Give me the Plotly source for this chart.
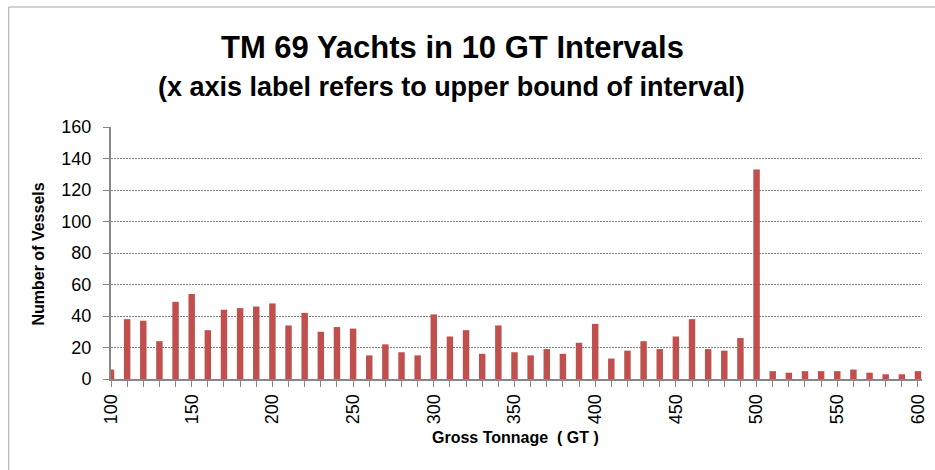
import plotly.graph_objects as go

# Gross tonnage interval upper bounds (10 GT bins) and vessel counts per bin
gt_upper = list(range(100, 601, 10))
vessels = [6, 38, 37, 24, 49, 54, 31, 44, 45, 46,
           48, 34, 42, 30, 33, 32, 15, 22, 17, 15,
           41, 27, 31, 16, 34, 17, 15, 19, 16, 23,
           35, 13, 18, 24, 19, 27, 38, 19, 18, 26,
           133, 5, 4, 5, 5, 5, 6, 4, 3, 3, 5]
x_tick_vals = list(range(100, 601, 50))
y_tick_vals = list(range(0, 161, 20))

W, H = 935, 470
ML, MR, MT, MB = 111, 7, 127, 91
PW, PH = W - ML - MR, H - MT - MB


def px_x(p):
    return (p - ML) / PW


def px_y(p):
    return (H - MB - p) / PH


FONT = "Liberation Sans, Arial, sans-serif"
AXIS_COL = "#878787"


def label(text, cx, cy, size, angle=0):
    return dict(text=text, textangle=angle,
                xref="paper", yref="paper", x=px_x(cx), y=px_y(cy),
                xanchor="center", yanchor="middle",
                showarrow=False, font=dict(size=size, family=FONT))


fig = go.Figure(go.Bar(
    x=gt_upper,
    y=vessels,
    width=4.0,
    marker=dict(color="#C0504D", line=dict(width=0)),
))

fig.update_layout(
    width=W, height=H,
    margin=dict(l=ML, r=MR, t=MT, b=MB),
    paper_bgcolor="white", plot_bgcolor="white",
    showlegend=False,
    font=dict(family=FONT, color="#000000"),
    shapes=[dict(type="rect", xref="paper", yref="paper",
                 x0=px_x(8), x1=px_x(945), y0=px_y(480), y1=px_y(7),
                 line=dict(color="#A6A6A6", width=1), layer="below")],
    annotations=[
        label("<b>TM 69 Yachts in 10 GT Intervals</b>", 455, 47, 31),
        label("<b>(x axis label refers to upper bound of interval)</b>", 454, 87, 27),
        label("<b>Number of Vessels</b>", 37, 254, 16, angle=-90),
        label("<b>Gross Tonnage  ( GT )</b>", 518, 437, 16),
    ],
)

fig.update_xaxes(
    range=[100, 602.5],
    tickmode="array", tickvals=x_tick_vals,
    ticktext=[str(v) for v in x_tick_vals],
    tickangle=-90, tickfont=dict(size=18, family=FONT),
    ticks="outside", ticklen=6, tickcolor=AXIS_COL, tickwidth=1,
    minor=dict(dtick=10, tick0=100, ticks="outside", ticklen=6,
               tickcolor=AXIS_COL, showgrid=False),
    showline=True, linecolor=AXIS_COL, linewidth=2,
    showgrid=False, zeroline=False,
)
fig.update_yaxes(
    range=[0, 160],
    tickmode="array", tickvals=y_tick_vals,
    tickfont=dict(size=18, family=FONT),
    ticks="outside", ticklen=6, tickcolor=AXIS_COL, tickwidth=1,
    showline=True, linecolor=AXIS_COL, linewidth=2,
    showgrid=True, gridcolor="#808080", griddash="1.5px,1.5px", gridwidth=1,
    zeroline=False, ticklabelstandoff=8,
)

fig.write_html("out.html")
